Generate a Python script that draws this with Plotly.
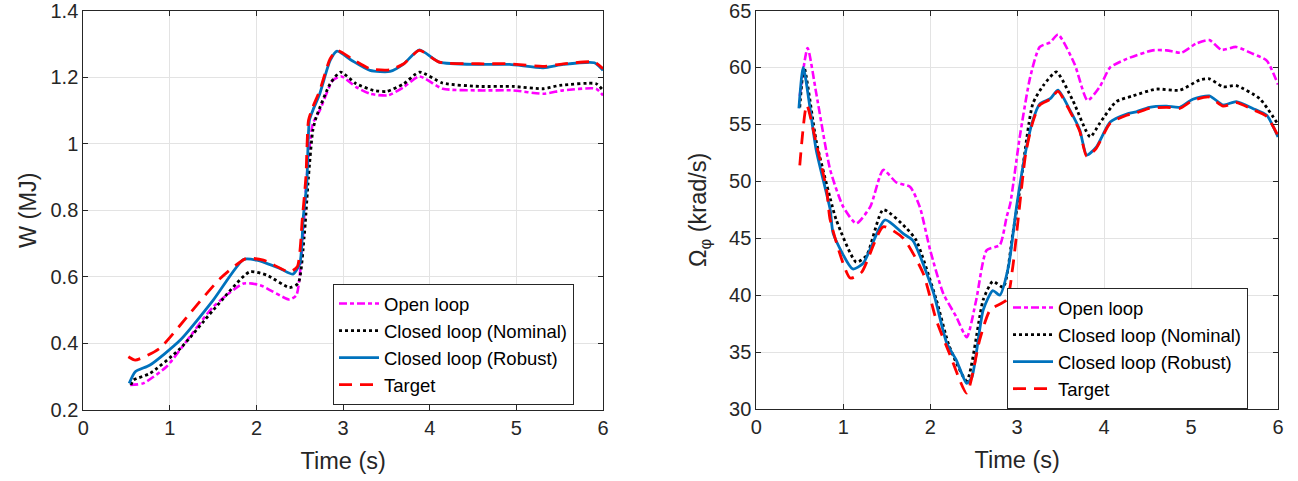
import plotly.graph_objects as go

# ---------------- Left panel: W (MJ) ----------------
t_w_open = [0.54, 0.69, 0.96, 1.23, 1.5, 1.85, 2.04, 2.38, 2.46, 2.53, 2.58, 2.65, 2.73, 2.88, 2.98, 3.15, 3.31, 3.52, 3.7, 3.88, 4.15, 4.57, 4.96, 5.31, 5.54, 5.92, 6.0]
w_open = [0.275, 0.28, 0.33, 0.42, 0.51, 0.58, 0.575, 0.532, 0.545, 0.7, 0.9, 1.06, 1.1, 1.19, 1.202, 1.17, 1.15, 1.145, 1.17, 1.202, 1.165, 1.16, 1.16, 1.15, 1.16, 1.165, 1.145]

t_w_nom = [0.55, 0.58, 0.77, 1.12, 1.5, 1.92, 2.12, 2.38, 2.48, 2.55, 2.6, 2.65, 2.69, 2.85, 2.97, 3.15, 3.35, 3.5, 3.7, 3.88, 4.15, 4.57, 4.96, 5.31, 5.5, 5.92, 6.0]
w_nom = [0.275, 0.29, 0.31, 0.385, 0.5, 0.615, 0.605, 0.568, 0.58, 0.72, 0.9, 1.04, 1.08, 1.18, 1.215, 1.18, 1.16, 1.157, 1.18, 1.215, 1.182, 1.172, 1.172, 1.165, 1.175, 1.18, 1.16]

t_w_rob = [0.53, 0.6, 0.77, 1.12, 1.5, 1.85, 2.0, 2.27, 2.42, 2.5, 2.54, 2.58, 2.61, 2.65, 2.73, 2.85, 2.93, 3.1, 3.31, 3.54, 3.7, 3.88, 4.11, 4.57, 4.92, 5.31, 5.54, 5.9, 6.0]
w_rob = [0.28, 0.315, 0.335, 0.41, 0.53, 0.652, 0.65, 0.625, 0.608, 0.64, 0.78, 0.88, 1.07, 1.10, 1.15, 1.25, 1.278, 1.25, 1.22, 1.217, 1.24, 1.282, 1.245, 1.238, 1.238, 1.228, 1.238, 1.243, 1.22]

t_w_tgt = [0.52, 0.6, 0.88, 1.23, 1.58, 1.88, 2.08, 2.38, 2.47, 2.53, 2.57, 2.6, 2.65, 2.73, 2.85, 2.93, 3.1, 3.31, 3.54, 3.7, 3.88, 4.11, 4.57, 4.92, 5.31, 5.54, 5.9, 6.0]
w_tgt = [0.36, 0.35, 0.385, 0.49, 0.595, 0.655, 0.65, 0.615, 0.63, 0.78, 0.9, 1.07, 1.11, 1.16, 1.255, 1.28, 1.255, 1.225, 1.222, 1.24, 1.28, 1.245, 1.24, 1.24, 1.232, 1.24, 1.245, 1.225]

# ---------------- Right panel: Omega_phi (krad/s) ----------------
t_o_open = [0.5, 0.59, 0.69, 0.85, 1.0, 1.15, 1.31, 1.46, 1.61, 1.77, 1.88, 2.0, 2.15, 2.3, 2.42, 2.53, 2.65, 2.8, 2.88, 2.92, 3.03, 3.15, 3.26, 3.38, 3.47, 3.66, 3.81, 3.95, 4.07, 4.26, 4.56, 4.72, 4.89, 5.06, 5.21, 5.35, 5.52, 5.71, 5.87, 6.0]
o_open = [57.5, 61.7, 57.7, 51.0, 47.75, 46.3, 47.75, 51.0, 49.9, 49.5, 47.75, 43.95, 40.15, 38.1, 36.3, 39.6, 43.95, 44.4, 46.9, 48.0, 53.9, 59.15, 61.8, 62.2, 62.9, 60.3, 57.1, 58.3, 60.0, 60.75, 61.5, 61.5, 61.3, 62.1, 62.4, 61.55, 61.8, 61.2, 60.6, 58.5]

t_o_nom = [0.5, 0.55, 0.69, 0.85, 0.92, 1.15, 1.27, 1.46, 1.73, 1.84, 2.07, 2.22, 2.42, 2.61, 2.72, 2.84, 2.95, 3.03, 3.18, 3.3, 3.45, 3.64, 3.84, 3.95, 4.14, 4.33, 4.6, 4.87, 5.1, 5.21, 5.37, 5.52, 5.79, 6.0]
o_nom = [56.5, 60.0, 53.5, 48.5, 46.6, 42.9, 43.5, 47.5, 45.85, 44.8, 39.6, 35.5, 32.5, 39.6, 41.2, 40.7, 45.4, 49.2, 56.8, 58.4, 59.6, 57.1, 53.9, 55.1, 57.0, 57.5, 58.1, 58.0, 58.9, 59.0, 58.3, 58.4, 57.25, 55.0]

t_o_rob = [0.49, 0.54, 0.69, 0.85, 0.885, 1.11, 1.23, 1.48, 1.69, 1.8, 2.03, 2.19, 2.3, 2.42, 2.48, 2.61, 2.72, 2.8, 2.9, 2.99, 3.1, 3.18, 3.26, 3.38, 3.47, 3.61, 3.72, 3.8, 3.91, 4.07, 4.26, 4.37, 4.52, 4.72, 4.87, 5.02, 5.21, 5.37, 5.52, 5.71, 5.87, 6.0]
o_rob = [56.4, 60.0, 52.7, 47.5, 45.4, 42.3, 42.8, 46.6, 45.4, 44.8, 40.4, 35.8, 34.3, 32.25, 32.8, 38.7, 40.4, 40.0, 42.5, 47.6, 52.7, 55.35, 56.8, 57.25, 58.0, 56.2, 54.5, 52.3, 53.0, 55.2, 55.9, 56.1, 56.5, 56.6, 56.5, 57.2, 57.5, 56.7, 57.0, 56.4, 55.8, 53.9]

t_o_tgt = [0.5, 0.58, 0.69, 0.81, 0.85, 1.08, 1.21, 1.46, 1.69, 1.92, 2.07, 2.22, 2.42, 2.57, 2.69, 2.88, 2.95, 3.1, 3.18, 3.26, 3.38, 3.47, 3.61, 3.72, 3.8, 3.91, 4.07, 4.26, 4.37, 4.52, 4.72, 4.87, 5.02, 5.21, 5.37, 5.52, 5.71, 5.87, 6.0]
o_tgt = [51.4, 56.7, 53.3, 49.2, 46.6, 41.5, 42.0, 46.0, 45.0, 41.9, 37.8, 34.9, 31.4, 36.1, 38.7, 39.6, 42.5, 52.5, 55.2, 56.7, 57.2, 57.9, 56.1, 54.4, 52.2, 52.9, 55.1, 55.8, 56.0, 56.4, 56.5, 56.4, 57.1, 57.4, 56.6, 56.9, 56.3, 55.7, 54.0]

names = ["Open loop", "Closed loop (Nominal)", "Closed loop (Robust)", "Target"]
colors = ["#FF00FF", "#000000", "#0072BD", "#FF0000"]
dashes = ["8px,3px,4px,3px", "3px,3px", "solid", "13px,8px"]
widths = [2.6, 2.8, 2.8, 2.8]

FONT = "Liberation Sans, Arial, Helvetica, sans-serif"
TXT = "#262626"
W, H = 1298, 481

fig = go.Figure()

left = [(t_w_open, w_open), (t_w_nom, w_nom), (t_w_rob, w_rob), (t_w_tgt, w_tgt)]
right = [(t_o_open, o_open), (t_o_nom, o_nom), (t_o_rob, o_rob), (t_o_tgt, o_tgt)]

for i, (tx, vy) in enumerate(left):
    fig.add_trace(go.Scatter(
        x=tx, y=vy, mode="lines", name=names[i], legend="legend",
        line=dict(color=colors[i], dash=dashes[i], width=widths[i], shape="spline", smoothing=0.6),
        xaxis="x", yaxis="y"))
for i, (tx, vy) in enumerate(right):
    fig.add_trace(go.Scatter(
        x=tx, y=vy, mode="lines", name=names[i], legend="legend2",
        line=dict(color=colors[i], dash=dashes[i], width=widths[i], shape="spline", smoothing=0.6),
        xaxis="x2", yaxis="y2"))

axis_common = dict(
    showline=True, linecolor=TXT, linewidth=1, mirror="ticks",
    ticks="inside", ticklen=5, tickcolor=TXT,
    showgrid=True, gridcolor="#E3E3E3", gridwidth=1, zeroline=False,
    automargin=False, ticklabeloverflow="allow",
    tickfont=dict(family=FONT, size=20, color=TXT),
)

x_ticks = [0, 1, 2, 3, 4, 5, 6]
title_font = dict(family=FONT, size=23.5, color=TXT)
legend_font = dict(family=FONT, size=18.5, color="#000000")

fig.update_layout(
    width=W, height=H,
    margin=dict(l=0, r=0, t=0, b=0, autoexpand=False),
    paper_bgcolor="white", plot_bgcolor="white",
    font=dict(family=FONT, color=TXT),
    xaxis=dict(axis_common, domain=[83.3 / W, 603 / W], range=[0, 6], tickvals=x_ticks,
               anchor="y", title=dict(text="Time (s)", font=title_font, standoff=14)),
    yaxis=dict(axis_common, domain=[(H - 410) / H, (H - 10.5) / H], range=[0.2, 1.4],
               tickvals=[0.2, 0.4, 0.6, 0.8, 1, 1.2, 1.4],
               ticktext=["0.2", "0.4", "0.6", "0.8", "1", "1.2", "1.4"],
               anchor="x", title=dict(text="W (MJ)", font=title_font, standoff=7)),
    xaxis2=dict(axis_common, domain=[756.3 / W, 1278 / W], range=[0, 6], tickvals=x_ticks,
                anchor="y2", title=dict(text="Time (s)", font=title_font, standoff=14)),
    yaxis2=dict(axis_common, domain=[(H - 409) / H, (H - 10.5) / H], range=[30, 65],
                tickvals=[30, 35, 40, 45, 50, 55, 60, 65],
                anchor="x2", title=dict(text="Ω<sub>φ</sub> (krad/s)", font=title_font, standoff=15)),
    legend=dict(x=333 / W, y=(H - 284) / H, xanchor="left", yanchor="top",
                bgcolor="white", bordercolor=TXT, borderwidth=1,
                font=legend_font, tracegroupgap=0, itemwidth=40),
    legend2=dict(x=1007 / W, y=(H - 288) / H, xanchor="left", yanchor="top",
                 bgcolor="white", bordercolor=TXT, borderwidth=1,
                 font=legend_font, tracegroupgap=0, itemwidth=40),
)

fig.write_html("out.html", config={"displayModeBar": False},
               post_script="document.body.style.margin='0px';document.body.style.padding='0px';")
